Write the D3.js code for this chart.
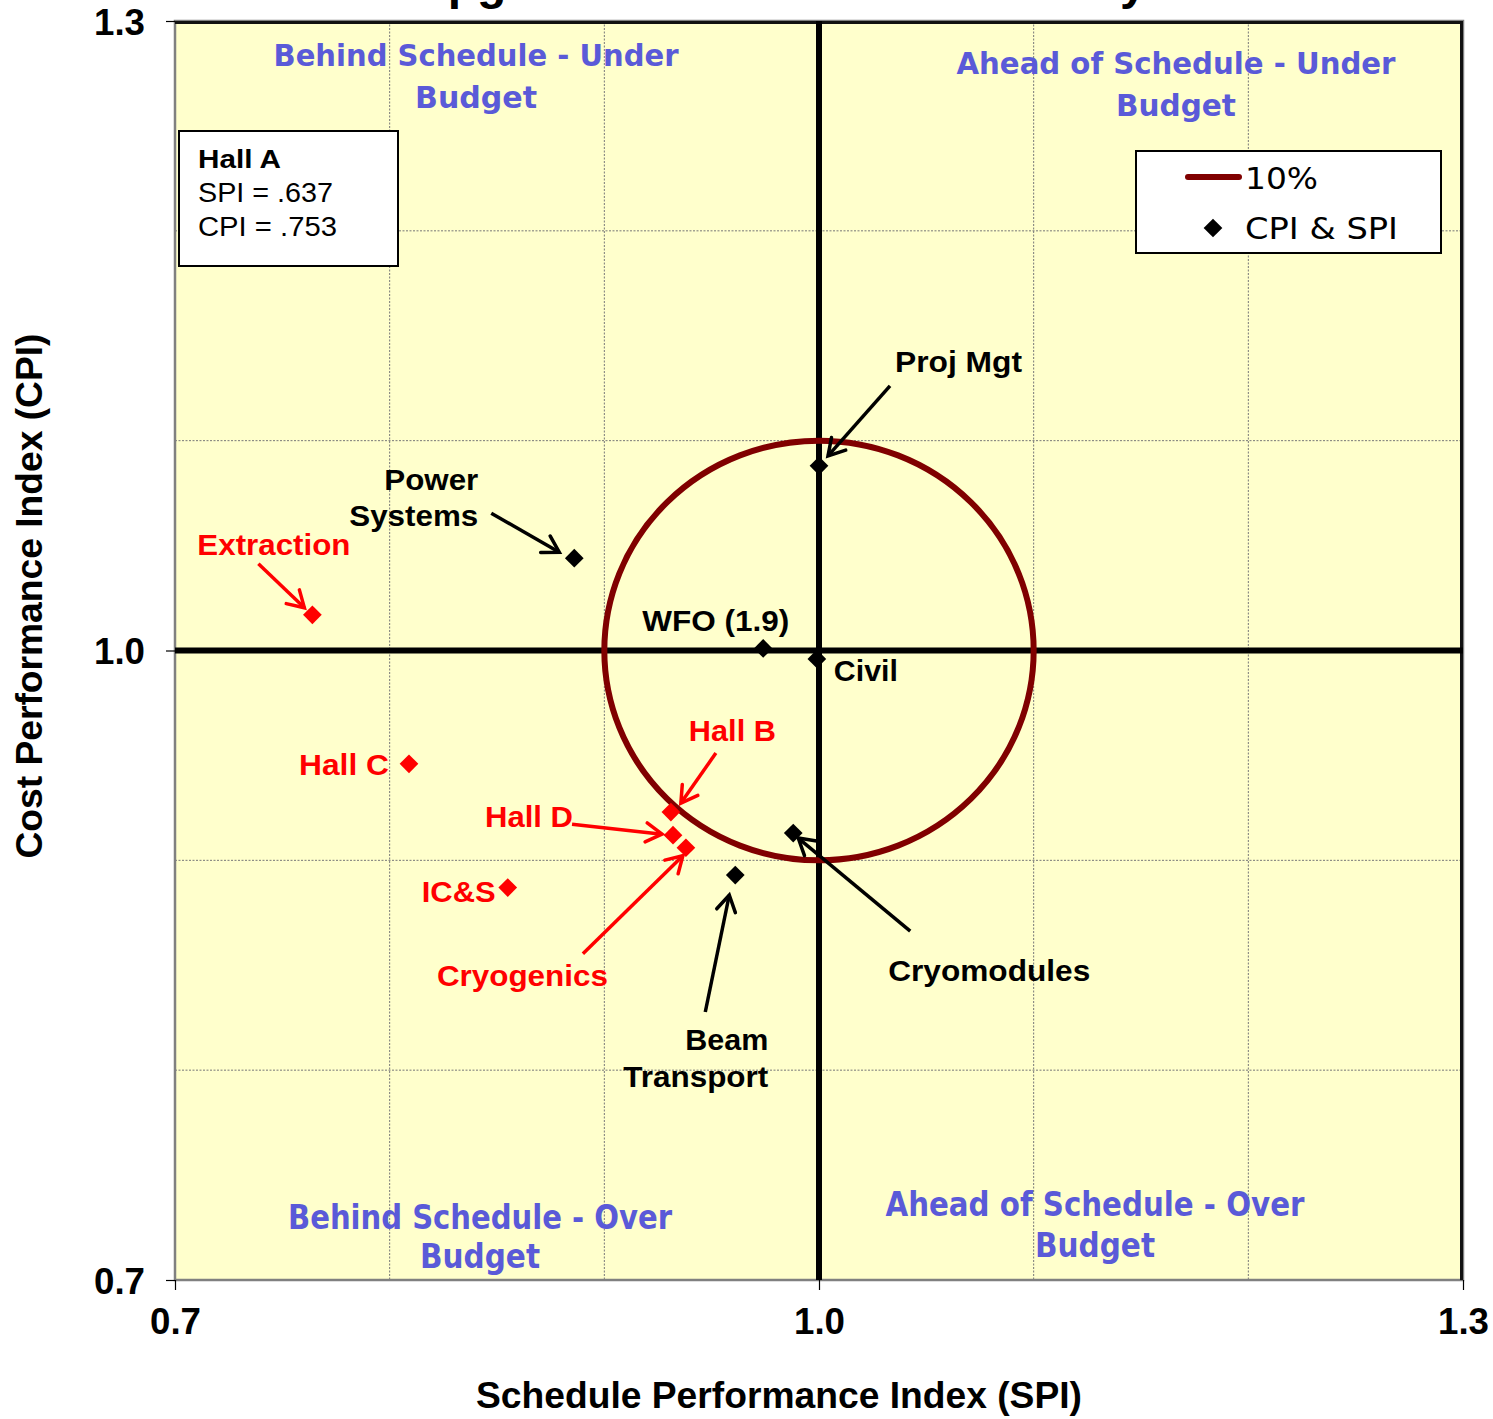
<!DOCTYPE html>
<html><head><meta charset="utf-8">
<script src="https://cdn.jsdelivr.net/npm/d3@7"></script>
<style>body{margin:0;background:#fff;} svg{display:block;}</style>
</head><body>
<svg id="chart" width="1493" height="1419"></svg>
<script>
// ---------------- DATA ----------------
const activities = ["Proj Mgt","Power Systems","Extraction","WFO (1.9)","Civil","Hall C","Hall B","Hall D","Cryogenics","IC&S","Beam Transport","Cryomodules"];
const spiValues  = [1.000, 0.886, 0.764, 0.974, 0.999, 0.809, 0.931, 0.932, 0.938, 0.855, 0.961, 0.988];
const cpiValues  = [1.088, 1.044, 1.017, 1.001, 0.996, 0.946, 0.923, 0.912, 0.906, 0.887, 0.893, 0.913];
const isPhysics  = [false, false, true, false, false, true, true, true, true, true, false, false];
const tickValues = [0.7, 1.0, 1.3];
const tickLabels = ["0.7", "1.0", "1.3"];
const gridValues = [0.8, 0.9, 1.1, 1.2];
const targetValue = 1.0;
const thresholdRadius = 0.1;           // the 10% circle
const legendLabels = ["10%", "CPI & SPI"];
const hallALines = ["Hall A", "SPI = .637", "CPI = .753"];
const quadrantText = [
  ["Behind Schedule - Under", "Budget"],
  ["Ahead of Schedule - Under", "Budget"],
  ["Behind Schedule - Over", "Budget"],
  ["Ahead of Schedule - Over", "Budget"]
];
const titleText = "12 GeV Upgrade Performance Summary";
const xTitle = "Schedule Performance Index (SPI)";
const yTitle = "Cost Performance Index (CPI)";

// ---------------- LAYOUT (pixels, styles) ----------------
const W = 1493, H = 1419;
const plot = {left:175, right:1463, top:21, bottom:1280};
const RED = "#ff0000", BLACK = "#000000", QBLUE = "#5a5ad8", CIRC = "#800000";
const LAB_FONT = "'Liberation Sans', Arial, sans-serif";
const Q_FONT = "'DejaVu Sans', Verdana, sans-serif";

// label/arrow offsets relative to each point (dx, dy in px)
const annotLayout = {
  "Proj Mgt":      {lines:[{t:"Proj Mgt", dx:76, dy:-94, w:127, a:"start"}], arrow:[71,-80,9,-10]},
  "Power Systems": {lines:[{t:"Power", dx:-96, dy:-68, w:94, a:"end"},{t:"Systems", dx:-96, dy:-32, w:129, a:"end"}], arrow:[-83,-45,-15,-6]},
  "Extraction":    {lines:[{t:"Extraction", dx:-115, dy:-60, w:153, a:"start"}], arrow:[-54,-51,-8,-7]},
  "WFO (1.9)":     {lines:[{t:"WFO (1.9)", dx:-121, dy:-17, w:147, a:"start"}]},
  "Civil":         {lines:[{t:"Civil", dx:17, dy:22, w:64, a:"start"}]},
  "Hall C":        {lines:[{t:"Hall C", dx:-110, dy:11, w:90, a:"start"}]},
  "Hall B":        {lines:[{t:"Hall B", dx:18, dy:-71, w:87, a:"start"}], arrow:[45,-59,10,-9]},
  "Hall D":        {lines:[{t:"Hall D", dx:-188, dy:-8, w:88, a:"start"}], arrow:[-101,-11,-11,-1]},
  "Cryogenics":    {lines:[{t:"Cryogenics", dx:-249, dy:138, w:171, a:"start"}], arrow:[-103,106,-3,8]},
  "IC&S":          {lines:[{t:"IC&S", dx:-86, dy:14, w:74, a:"start"}]},
  "Beam Transport":{lines:[{t:"Beam", dx:33, dy:175, w:83, a:"end"},{t:"Transport", dx:33, dy:212, w:145, a:"end"}], arrow:[-30,137,-6,20]},
  "Cryomodules":   {lines:[{t:"Cryomodules", dx:95, dy:148, w:202, a:"start"}], arrow:[117,98,5,5]}
};

const quadLayout = [
  {cx:476,  y1:66,   y2:108,  w1:405, w2:122, fs:31},
  {cx:1176, y1:74,   y2:116,  w1:439, w2:120, fs:31},
  {cx:480,  y1:1229, y2:1268, w1:384, w2:120, fs:34},
  {cx:1095, y1:1216, y2:1257, w1:419, w2:120, fs:34}
];

function fit(sel, w){ if (w) sel.attr("textLength", w).attr("lengthAdjust", "spacingAndGlyphs"); return sel; }

// ---------------- SCALES ----------------
const x = d3.scaleLinear().domain([0.7, 1.3]).range([plot.left, plot.right]);
const y = d3.scaleLinear().domain([0.7, 1.3]).range([plot.bottom, plot.top]);

const svg = d3.select("#chart");
svg.append("rect").attr("width", W).attr("height", H).attr("fill", "#fff");

// markers
const defs = svg.append("defs");
[["arrBlack", BLACK], ["arrRed", RED]].forEach(([id, c]) => {
  defs.append("marker").attr("id", id).attr("markerUnits", "userSpaceOnUse")
    .attr("viewBox", "-20 -12 24 24").attr("refX", 0).attr("refY", 0)
    .attr("markerWidth", 24).attr("markerHeight", 24).attr("orient", "auto")
    .append("path").attr("d", "M-16,-9.5 L0,0 L-16,9.5")
    .attr("fill", "none").attr("stroke", c).attr("stroke-width", 3.5)
    .attr("stroke-linecap", "round").attr("stroke-linejoin", "miter");
});

// title (cut off at top, as in the original picture)
svg.append("text").attr("x", 237).attr("y", -1)
  .attr("font-family", LAB_FONT).attr("font-weight", "bold").attr("font-size", 48)
  .text(titleText);

// plot background
svg.append("rect").attr("x", plot.left).attr("y", plot.top)
  .attr("width", plot.right - plot.left).attr("height", plot.bottom - plot.top)
  .attr("fill", "#ffffcc");

// gridlines
const g = svg.append("g");
g.selectAll(".gx").data(gridValues).join("line")
  .attr("x1", d => x(d)).attr("x2", d => x(d)).attr("y1", plot.top).attr("y2", plot.bottom)
  .attr("stroke", "#777").attr("stroke-width", 1).attr("stroke-dasharray", "2,1.5");
g.selectAll(".gy").data(gridValues).join("line")
  .attr("y1", d => y(d)).attr("y2", d => y(d)).attr("x1", plot.left).attr("x2", plot.right)
  .attr("stroke", "#777").attr("stroke-width", 1).attr("stroke-dasharray", "2,1.5");

// frame
svg.append("rect").attr("x", plot.left).attr("y", plot.top)
  .attr("width", plot.right - plot.left).attr("height", plot.bottom - plot.top)
  .attr("fill", "none").attr("stroke", "#808080").attr("stroke-width", 2.5);
svg.append("line").attr("x1", plot.left).attr("x2", plot.right).attr("y1", plot.top + 1.5).attr("y2", plot.top + 1.5)
  .attr("stroke", "#111").attr("stroke-width", 3);
svg.append("line").attr("x1", plot.right - 1.5).attr("x2", plot.right - 1.5).attr("y1", plot.top).attr("y2", plot.bottom)
  .attr("stroke", "#111").attr("stroke-width", 3);

// target cross lines
svg.append("line").attr("x1", x(targetValue)).attr("x2", x(targetValue)).attr("y1", plot.top).attr("y2", plot.bottom)
  .attr("stroke", BLACK).attr("stroke-width", 6);
svg.append("line").attr("y1", y(targetValue)).attr("y2", y(targetValue)).attr("x1", plot.left).attr("x2", plot.right)
  .attr("stroke", BLACK).attr("stroke-width", 6);

// axes (ticks + labels)
const xAxis = d3.axisBottom(x).tickValues(tickValues).tickFormat((d, i) => tickLabels[i]).tickSize(10).tickPadding(22);
const yAxis = d3.axisLeft(y).tickValues(tickValues).tickFormat((d, i) => tickLabels[i]).tickSize(9).tickPadding(20);
const gx = svg.append("g").attr("transform", `translate(0,${plot.bottom})`).call(xAxis);
const gy = svg.append("g").attr("transform", `translate(${plot.left},0)`).call(yAxis);
[gx, gy].forEach(a => {
  a.select(".domain").remove();
  a.selectAll(".tick line").attr("stroke", "#000").attr("stroke-width", 1.2);
  a.selectAll(".tick text").attr("font-family", LAB_FONT).attr("font-weight", "bold")
    .attr("font-size", 37).attr("fill", "#000").attr("textLength", 51).attr("lengthAdjust", "spacingAndGlyphs");
});
gx.selectAll(".tick text").attr("dy", "0.71em").attr("y", 28);
gy.selectAll(".tick text").attr("x", -30).attr("dy", "0.36em");

// axis titles
fit(svg.append("text").attr("x", 779).attr("y", 1408).attr("text-anchor", "middle")
  .attr("font-family", LAB_FONT).attr("font-weight", "bold").attr("font-size", 37).text(xTitle), 606);
fit(svg.append("text").attr("transform", "translate(42,596) rotate(-90)").attr("text-anchor", "middle")
  .attr("font-family", LAB_FONT).attr("font-weight", "bold").attr("font-size", 37).text(yTitle), 525);

// quadrant labels
quadrantText.forEach((lines, i) => {
  const L = quadLayout[i];
  fit(svg.append("text").attr("x", L.cx).attr("y", L.y1).attr("text-anchor", "middle")
    .attr("font-family", Q_FONT).attr("font-weight", "bold").attr("font-size", L.fs)
    .attr("fill", QBLUE).text(lines[0]), L.w1);
  fit(svg.append("text").attr("x", L.cx).attr("y", L.y2).attr("text-anchor", "middle")
    .attr("font-family", Q_FONT).attr("font-weight", "bold").attr("font-size", L.fs)
    .attr("fill", QBLUE).text(lines[1]), L.w2);
});

// 10% circle
svg.append("ellipse")
  .attr("cx", x(targetValue)).attr("cy", y(targetValue))
  .attr("rx", x(targetValue + thresholdRadius) - x(targetValue))
  .attr("ry", y(targetValue) - y(targetValue + thresholdRadius))
  .attr("fill", "none").attr("stroke", CIRC).attr("stroke-width", 6);

// data
const points = activities.map((name, i) => ({name, spi: spiValues[i], cpi: cpiValues[i], red: isPhysics[i]}));
const diamond = d3.symbol().type(d3.symbolSquare).size(175);

// annotations (arrows + labels)
const ann = svg.append("g");
points.forEach(p => {
  const L = annotLayout[p.name]; if (!L) return;
  const px = x(p.spi), py = y(p.cpi), col = p.red ? RED : BLACK;
  if (L.arrow) {
    ann.append("line").attr("x1", px + L.arrow[0]).attr("y1", py + L.arrow[1])
      .attr("x2", px + L.arrow[2]).attr("y2", py + L.arrow[3])
      .attr("stroke", col).attr("stroke-width", 3.5)
      .attr("marker-end", `url(#${p.red ? "arrRed" : "arrBlack"})`);
  }
  L.lines.forEach(l => {
    fit(ann.append("text").attr("x", px + l.dx).attr("y", py + l.dy).attr("text-anchor", l.a)
      .attr("font-family", LAB_FONT).attr("font-weight", "bold").attr("font-size", 29)
      .attr("fill", col).text(l.t), l.w);
  });
});

svg.append("g").selectAll("path").data(points).join("path")
  .attr("d", diamond)
  .attr("transform", d => `translate(${x(d.spi)},${y(d.cpi)}) rotate(45)`)
  .attr("fill", d => d.red ? RED : BLACK);

// Hall A box
const hb = svg.append("g");
hb.append("rect").attr("x", 179).attr("y", 131).attr("width", 219).attr("height", 135)
  .attr("fill", "#fff").attr("stroke", "#000").attr("stroke-width", 2);
const hallW = [83, 135, 139];
hallALines.forEach((t, i) => {
  fit(hb.append("text").attr("x", 198).attr("y", 168 + i * 34)
    .attr("font-family", LAB_FONT).attr("font-weight", i === 0 ? "bold" : "normal")
    .attr("font-size", i === 0 ? 26 : 27).text(t), hallW[i]);
});

// legend
const lg = svg.append("g");
lg.append("rect").attr("x", 1136).attr("y", 151).attr("width", 305).attr("height", 102)
  .attr("fill", "#fff").attr("stroke", "#000").attr("stroke-width", 2);
lg.append("line").attr("x1", 1188).attr("x2", 1239).attr("y1", 177).attr("y2", 177)
  .attr("stroke", CIRC).attr("stroke-width", 6).attr("stroke-linecap", "round");
lg.append("path").attr("d", diamond).attr("transform", "translate(1213,228) rotate(45)").attr("fill", BLACK);
fit(lg.append("text").attr("x", 1245).attr("y", 189).attr("font-family", Q_FONT)
  .attr("font-size", 31).text(legendLabels[0]), 73);
fit(lg.append("text").attr("x", 1245).attr("y", 239).attr("font-family", Q_FONT)
  .attr("font-size", 31).text(legendLabels[1]), 153);
</script>
</body></html>
